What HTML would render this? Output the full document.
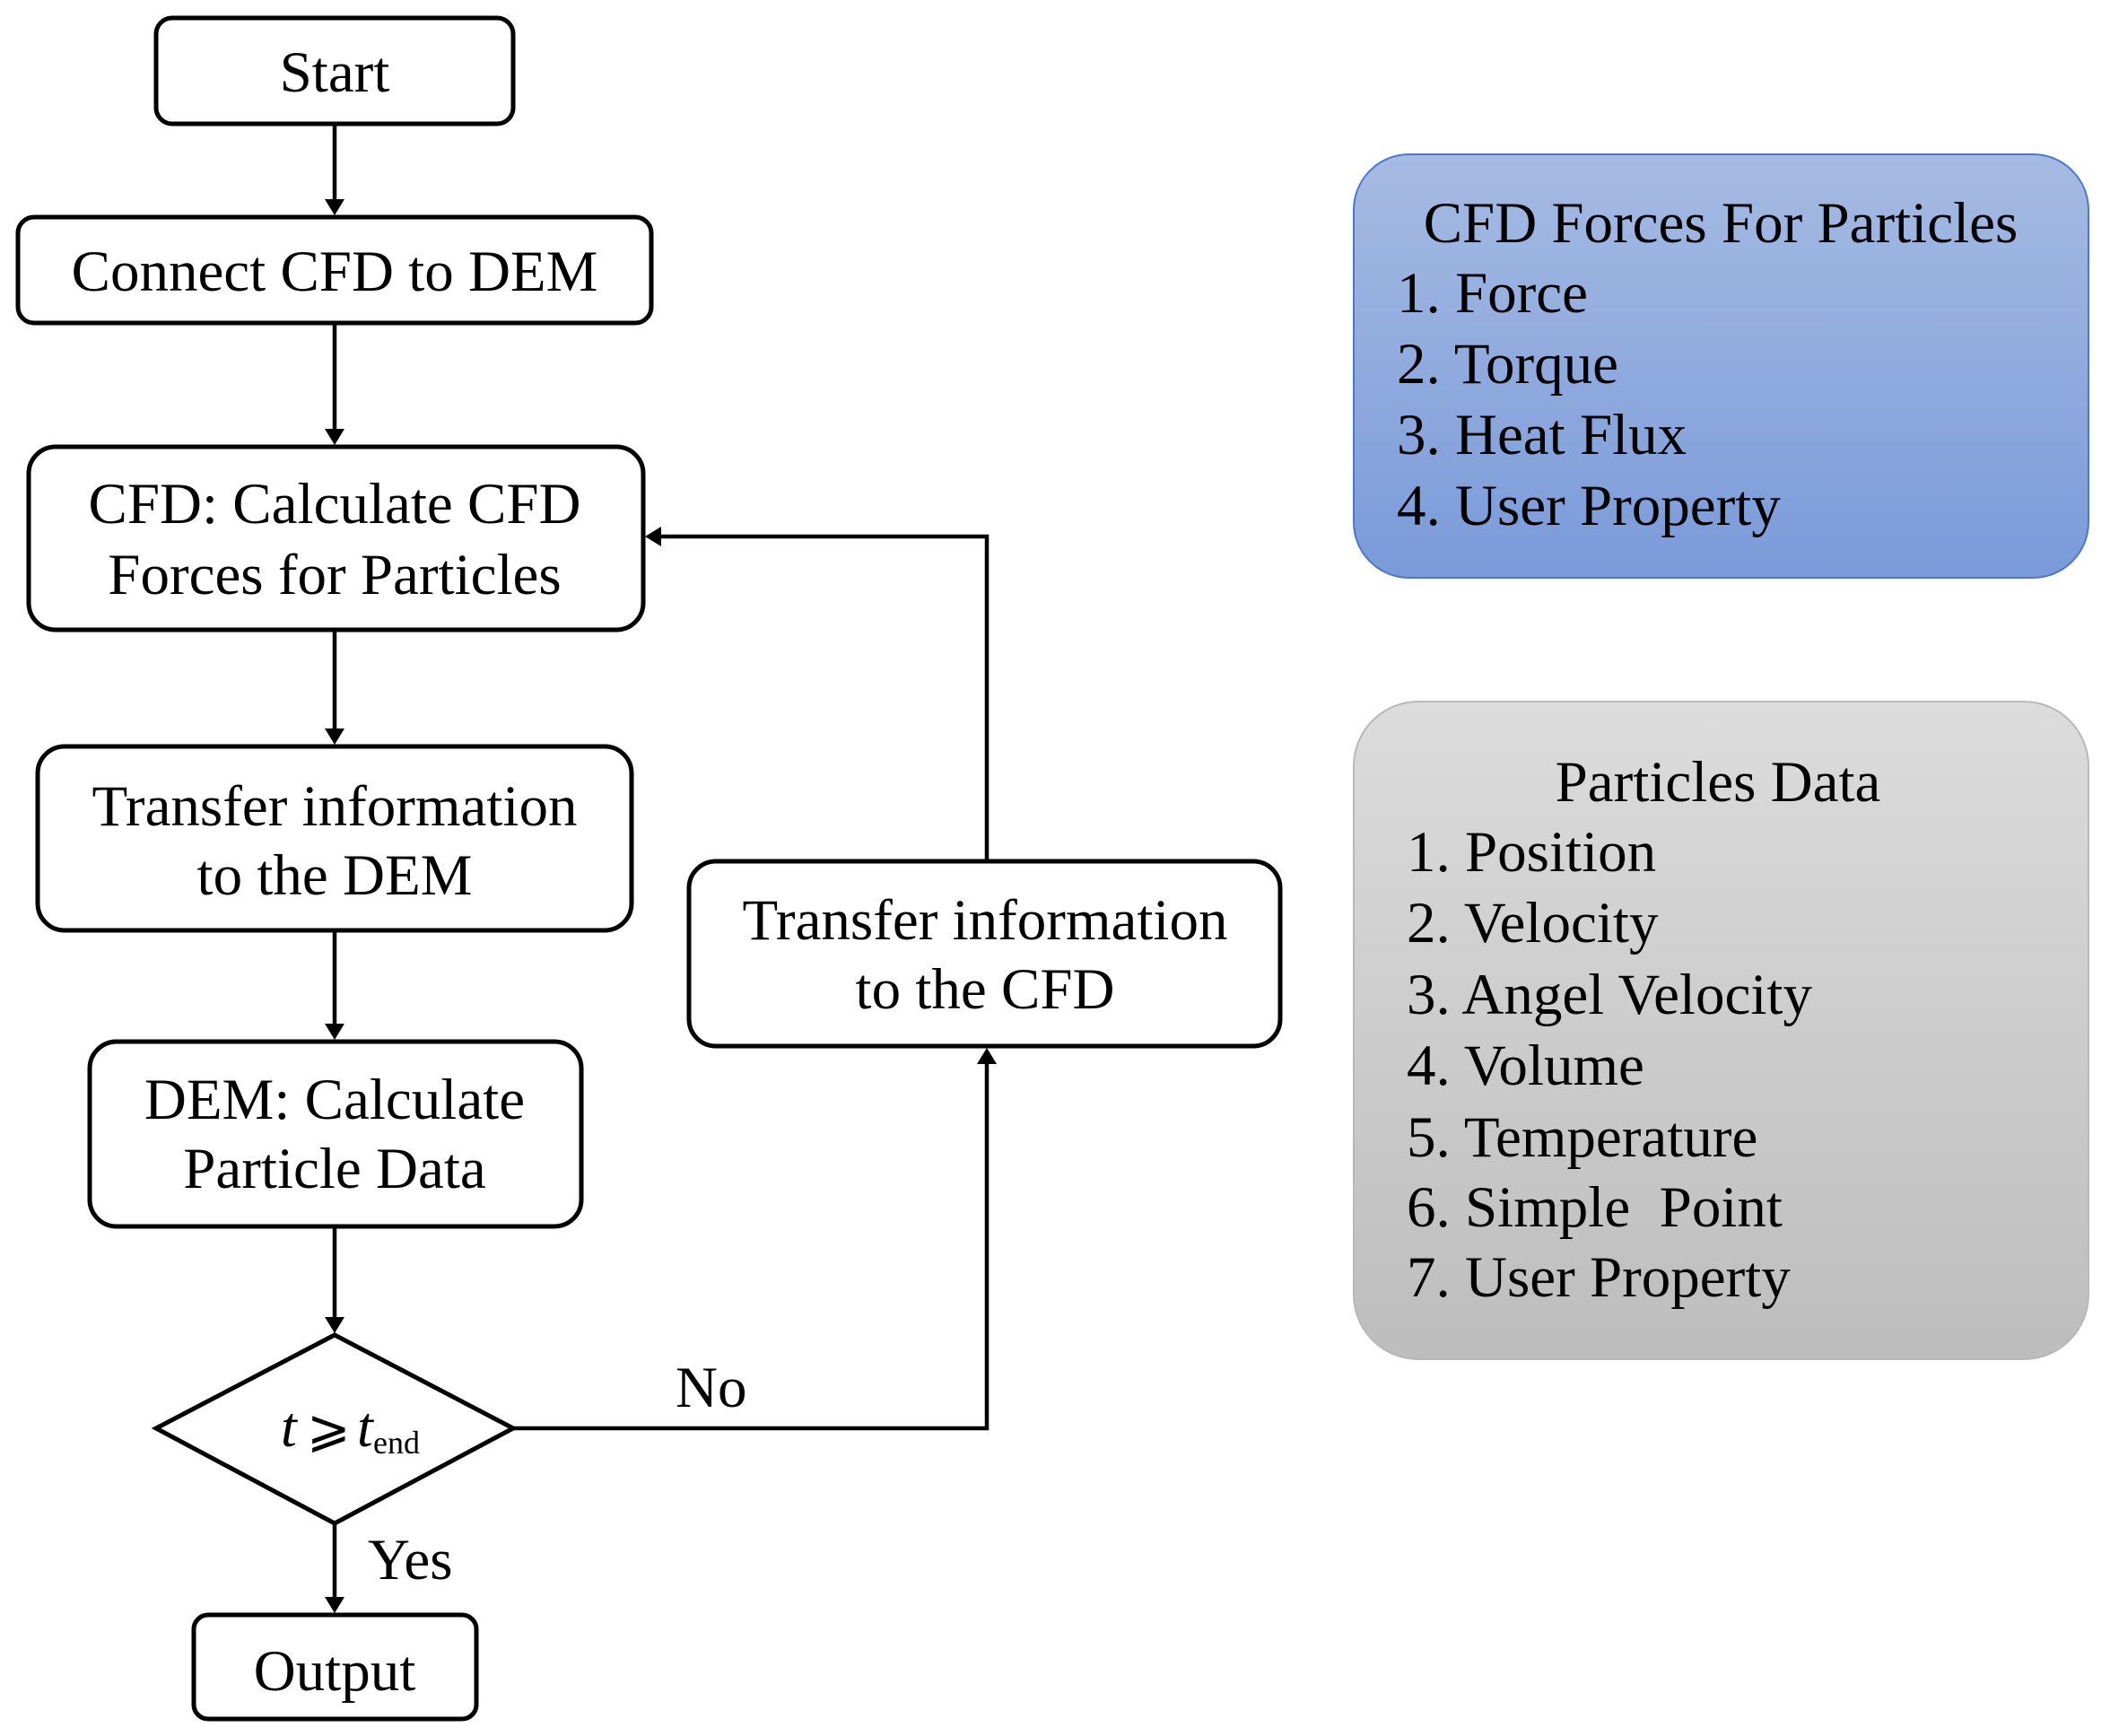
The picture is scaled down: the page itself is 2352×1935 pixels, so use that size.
<!DOCTYPE html>
<html><head><meta charset="utf-8"><style>html,body{margin:0;padding:0;background:#fff}</style></head>
<body>
<svg width="2352" height="1930" viewBox="0 0 2352 1930" xmlns="http://www.w3.org/2000/svg" font-family="'Liberation Serif', serif" font-size="65" fill="#000">
<defs>
<linearGradient id="gb" x1="0" y1="0" x2="0" y2="1"><stop offset="0" stop-color="#a6bbe3"/><stop offset="1" stop-color="#7a9ad9"/></linearGradient>
<linearGradient id="gg" x1="0" y1="0" x2="0" y2="1"><stop offset="0" stop-color="#dcdcdc"/><stop offset="1" stop-color="#bdbdbd"/></linearGradient>
</defs>
<g fill="none" stroke="#000" stroke-width="5">
<rect x="174" y="20" width="398" height="118" rx="18"/>
<rect x="20" y="242" width="706" height="118" rx="18"/>
<rect x="32" y="498" width="685" height="204" rx="30"/>
<rect x="42" y="832" width="662" height="205" rx="30"/>
<rect x="100" y="1161" width="548" height="206" rx="30"/>
<polygon points="373,1488 572,1592 373,1698 174,1592"/>
<rect x="216" y="1800" width="315" height="116" rx="16"/>
<rect x="768" y="960" width="659" height="206" rx="30"/>
</g>
<g stroke="#000" stroke-width="4.5" fill="none">
<line x1="373" y1="138" x2="373" y2="226"/>
<path d="M362,222 L384,222 L373,240 z" fill="#000" stroke="none"/>
<line x1="373" y1="360" x2="373" y2="482"/>
<path d="M362,478 L384,478 L373,496 z" fill="#000" stroke="none"/>
<line x1="373" y1="702" x2="373" y2="816"/>
<path d="M362,812 L384,812 L373,830 z" fill="#000" stroke="none"/>
<line x1="373" y1="1037" x2="373" y2="1145"/>
<path d="M362,1141 L384,1141 L373,1159 z" fill="#000" stroke="none"/>
<line x1="373" y1="1367" x2="373" y2="1472"/>
<path d="M362,1468 L384,1468 L373,1486 z" fill="#000" stroke="none"/>
<line x1="373" y1="1698" x2="373" y2="1784"/>
<path d="M362,1780 L384,1780 L373,1798 z" fill="#000" stroke="none"/>
<polyline points="572,1592 1100,1592 1100,1182"/>
<path d="M1089,1186 L1111,1186 L1100,1168 z" fill="#000" stroke="none"/>
<polyline points="1100,960 1100,598 735,598"/>
<path d="M737,587 L737,609 L719,598 z" fill="#000" stroke="none"/>
</g>
<g text-anchor="middle">
<text x="373" y="102">Start</text>
<text x="373" y="324">Connect CFD to DEM</text>
<text x="373" y="583">CFD: Calculate CFD</text>
<text x="373" y="662">Forces for Particles</text>
<text x="373" y="920">Transfer information</text>
<text x="373" y="997">to the DEM</text>
<text x="373" y="1247">DEM: Calculate</text>
<text x="373" y="1324">Particle Data</text>
<text x="373" y="1884">Output</text>
<text x="1098" y="1047">Transfer information</text>
<text x="1098" y="1124">to the CFD</text>
</g>
<text x="313" y="1612" font-style="italic" font-size="64">t</text>
<text x="342" y="1612" font-size="58">⩾</text>
<text x="398" y="1612" font-style="italic" font-size="64">t</text>
<text x="416" y="1620" font-size="36">end</text>
<text x="753" y="1568">No</text>
<text x="410" y="1760">Yes</text>
<rect x="1509" y="172" width="819" height="472" rx="62" fill="url(#gb)" stroke="#4a78cc" stroke-width="2"/>
<rect x="1509" y="782" width="819" height="733" rx="72" fill="url(#gg)" stroke="#b8b8b8" stroke-width="2"/>
<g font-size="65">
<text x="1918" y="270" text-anchor="middle">CFD Forces For Particles</text>
<text x="1557" y="348">1. Force</text>
<text x="1557" y="427">2. Torque</text>
<text x="1557" y="506">3. Heat Flux</text>
<text x="1557" y="585">4. User Property</text>
<text x="1915" y="893" text-anchor="middle">Particles Data</text>
<text x="1568" y="971">1. Position</text>
<text x="1568" y="1050">2. Velocity</text>
<text x="1568" y="1130">3. Angel Velocity</text>
<text x="1568" y="1209">4. Volume</text>
<text x="1568" y="1289">5. Temperature</text>
<text x="1568" y="1367">6. Simple&#160; Point</text>
<text x="1568" y="1445">7. User Property</text>
</g>
</svg>
</body></html>
